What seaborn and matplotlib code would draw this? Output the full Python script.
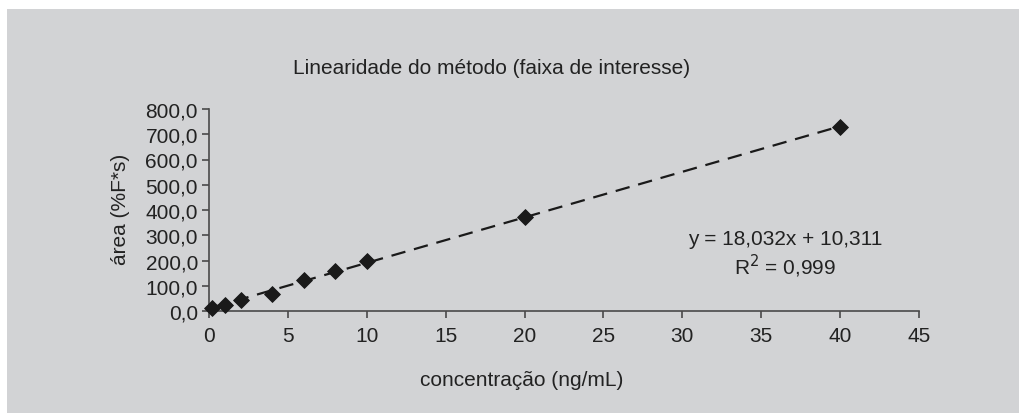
import matplotlib
matplotlib.use("Agg")
import matplotlib.pyplot as plt
import seaborn as sns
import numpy as np
import pandas as pd
from matplotlib.patches import Rectangle
from matplotlib.ticker import FuncFormatter

# ---- data ----
concentracao = [0.2, 1, 2, 4, 6, 8, 10, 20, 40]
area = [12, 22, 44, 68, 122, 157, 200, 373, 727]
slope = 18.032
intercept = 10.311
r2_text = "0,999"
x_ticks = [0, 5, 10, 15, 20, 25, 30, 35, 40, 45]
y_ticks = [0, 100, 200, 300, 400, 500, 600, 700, 800]

title = "Linearidade do método (faixa de interesse)"
xlabel = "concentração (ng/mL)"
ylabel = "área (%F*s)"

sns.set_style("white")
plt.rcParams["font.family"] = ["Liberation Sans", "DejaVu Sans"]

FS = 15
W, H = 1019, 414
fig = plt.figure(figsize=(W / 100, H / 100), dpi=100, facecolor="white")
bg = "#d2d3d5"
fig.patches.append(Rectangle((7 / W, 0), 1 - 7 / W, 1 - 10 / H, transform=fig.transFigure,
                             facecolor=bg, edgecolor="none", zorder=-10))

ax = fig.add_axes([209 / W, 1 - 312 / H, (919 - 209) / W, (312 - 110) / H])
ax.set_zorder(5)
ax.set_facecolor("none")
ax.patch.set_visible(False)

df = pd.DataFrame({"x": concentracao, "y": area})
xs = np.array([min(concentracao), max(concentracao)])
trend = pd.DataFrame({"x": xs, "y": slope * xs + intercept})

sns.lineplot(data=trend, x="x", y="y", ax=ax, color="#1a1a1a", lw=1.6,
             linestyle=(0, (6.5, 4)), zorder=2)
sns.scatterplot(data=df, x="x", y="y", ax=ax, marker="D", s=65, color="#1a1a1a",
                edgecolor="#1a1a1a", zorder=3, clip_on=False)

ax.set_xlim(0, 45)
ax.set_ylim(0, 800)
ax.set_xticks(x_ticks)
ax.set_yticks(y_ticks)
ax.yaxis.set_major_formatter(FuncFormatter(lambda v, p: f"{v:.1f}".replace(".", ",")))
ax.set_xlabel("")
ax.set_ylabel("")

for s in ["top", "right"]:
    ax.spines[s].set_visible(False)
for s in ["left", "bottom"]:
    ax.spines[s].set_color("#4a4a4a")
    ax.spines[s].set_linewidth(1.2)
ax.tick_params(axis="both", direction="out", length=5, width=1.2, color="#4a4a4a",
               labelsize=FS, labelcolor="#222222", pad=3)
ax.tick_params(axis="y", left=True)
ax.tick_params(axis="x", bottom=True, pad=6)

fig.text(492 / W, 1 - 68 / H, title, ha="center", va="center", fontsize=FS, color="#222222")
fig.text(522 / W, 1 - 381 / H, xlabel, ha="center", va="center", fontsize=FS, color="#222222")
fig.text(121 / W, 1 - 209 / H, ylabel, ha="center", va="center", rotation=90,
         fontsize=FS, color="#222222")
fig.text(785 / W, 1 - 240 / H, f"y = {slope:.3f}x + {intercept:.3f}".replace(".", ","),
         ha="center", va="center", fontsize=FS, color="#222222")
fig.text(785 / W, 1 - 266 / H, r"R$^{2}$ = " + r2_text,
         ha="center", va="center", fontsize=FS, color="#222222")

fig.savefig("out.png", dpi=100, facecolor="white")
